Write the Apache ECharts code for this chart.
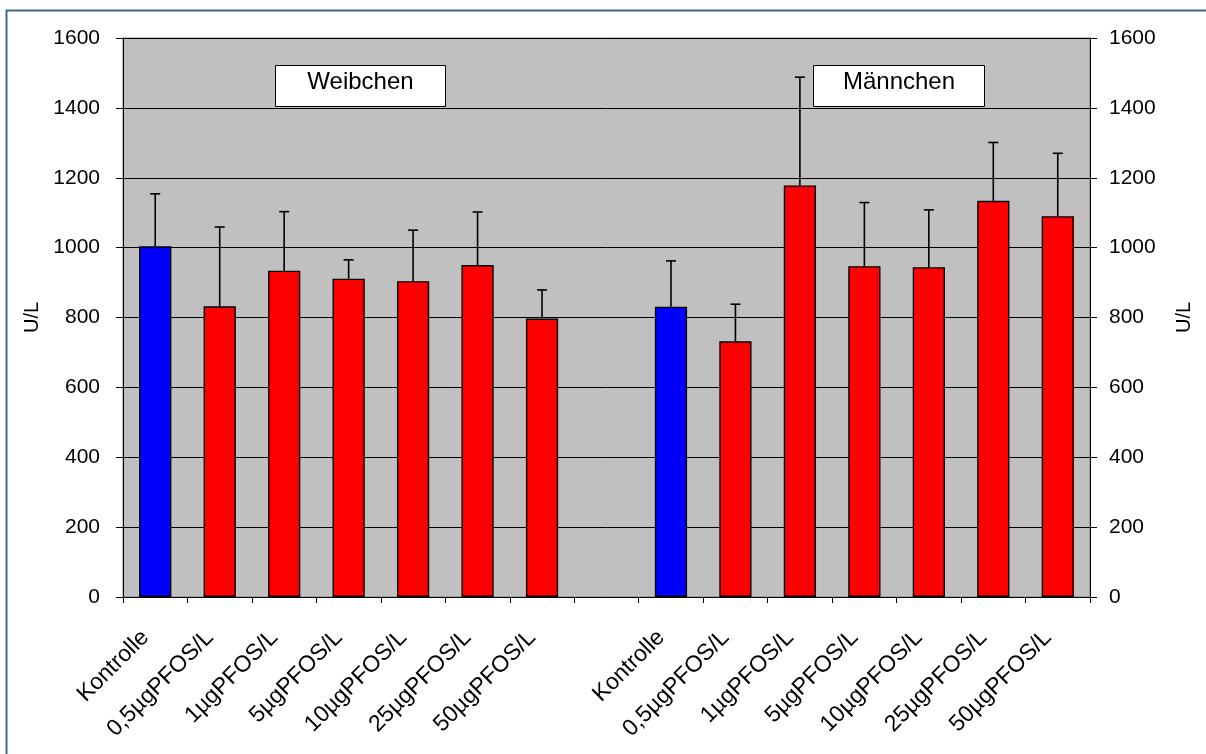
<!DOCTYPE html>
<html>
<head>
<meta charset="utf-8">
<style>
  html, body { margin: 0; padding: 0; background: #ffffff; }
  #chart { width: 1206px; height: 754px; }
</style>
<script src="https://cdn.jsdelivr.net/npm/echarts@6/dist/echarts.min.js"></script>
</head>
<body>
<div id="chart"></div>
<script>
// Treatment groups (same for both sexes)
const groups = ['Kontrolle', '0,5µgPFOS/L', '1µgPFOS/L', '5µgPFOS/L', '10µgPFOS/L', '25µgPFOS/L', '50µgPFOS/L'];

// Mean activity, U/L
const weibchenMean = [1004, 832, 934, 911, 904, 950, 797];
const maennchenMean = [831, 732, 1178, 947, 944, 1134, 1090];

// Standard deviation (upper error bar), U/L
const weibchenSD = [150, 227, 169, 54, 146, 152, 82];
const maennchenSD = [131, 106, 310, 182, 164, 167, 180];

// Value axis ticks
const yTicks = [0, 200, 400, 600, 800, 1000, 1200, 1400, 1600];

const sexLabels = ['Weibchen', 'Männchen'];

// Category axis: females, empty slot, males
const categories = [...groups, '', ...groups];
const means = [...weibchenMean, null, ...maennchenMean];
const sds = [...weibchenSD, null, ...maennchenSD];

const FONT = 'Arial, "Liberation Sans", sans-serif';

const barData = means.map((v, i) => {
  if (v === null) return '-';
  const isControl = categories[i] === 'Kontrolle';
  return {
    value: v,
    itemStyle: { color: isControl ? '#0000ff' : '#ff0000' }
  };
});

const errData = [];
means.forEach((v, i) => {
  if (v !== null) errData.push([i, v, sds[i]]);
});

const chart = echarts.init(document.getElementById('chart'), null, { renderer: 'canvas' });

const yAxisCommon = {
  type: 'value',
  min: yTicks[0],
  max: yTicks[yTicks.length - 1],
  interval: yTicks[1] - yTicks[0],
  name: 'U/L',
  nameLocation: 'middle',
  nameRotate: 90,
  nameTextStyle: { fontFamily: FONT, fontSize: 20, color: '#000' },
  axisLine: { show: true, lineStyle: { color: '#000', width: 1 } },
  axisTick: { show: true, length: 7, lineStyle: { color: '#000' } },
  axisLabel: { fontFamily: FONT, fontSize: 21, color: '#000', formatter: v => String(v) }
};

chart.setOption({
  animation: false,
  backgroundColor: '#ffffff',
  grid: {
    left: 123, right: 116, top: 38, bottom: 157,
    show: true,
    backgroundColor: '#c0c0c0',
    borderColor: '#808080',
    borderWidth: 1
  },
  xAxis: {
    type: 'category',
    data: categories,
    axisLine: { show: true, lineStyle: { color: '#000', width: 1 } },
    axisTick: { show: true, interval: 0, length: 6, lineStyle: { color: '#000' } },
    axisLabel: {
      interval: 0,
      rotate: 45,
      margin: 27,
      padding: [0, 14, 0, 0],
      fontFamily: FONT,
      fontSize: 23,
      color: '#000'
    },
    splitLine: { show: false }
  },
  yAxis: [
    Object.assign({}, yAxisCommon, {
      position: 'left',
      nameGap: 81,
      axisLabel: Object.assign({}, yAxisCommon.axisLabel, { margin: 23 }),
      splitLine: { show: true, lineStyle: { color: '#000', width: 1 } }
    }),
    Object.assign({}, yAxisCommon, {
      position: 'right',
      nameGap: 84,
      axisLabel: Object.assign({}, yAxisCommon.axisLabel, { margin: 19 }),
      splitLine: { show: false }
    })
  ],
  series: [
    {
      type: 'bar',
      data: barData,
      barWidth: '50%',
      itemStyle: { borderColor: '#000', borderWidth: 1.4 },
      z: 2
    },
    {
      type: 'custom',
      data: errData,
      z: 3,
      renderItem: function (params, api) {
        const idx = api.value(0);
        const mean = api.value(1);
        const sd = api.value(2);
        const base = api.coord([idx, mean]);
        const top = api.coord([idx, mean + sd]);
        const cap = 5;
        const style = { stroke: '#000', lineWidth: 1.6 };
        return {
          type: 'group',
          children: [
            { type: 'line', shape: { x1: base[0], y1: base[1], x2: top[0], y2: top[1] }, style: style },
            { type: 'line', shape: { x1: top[0] - cap, y1: top[1], x2: top[0] + cap, y2: top[1] }, style: style }
          ]
        };
      }
    }
  ],
  graphic: [
    // outer chart frame
    {
      type: 'rect',
      shape: { x: 6.5, y: 10.5, width: 1400, height: 900 },
      style: { fill: 'none', stroke: '#3d6a86', lineWidth: 2 },
      silent: true
    },
    {
      type: 'group',
      left: 275, top: 65,
      children: [
        { type: 'rect', shape: { x: 0, y: 0, width: 170, height: 41 }, style: { fill: '#fff', stroke: '#000', lineWidth: 1 } },
        { type: 'text', x: 85, y: 17, style: { text: sexLabels[0], fontFamily: FONT, fontSize: 24, fill: '#000', textAlign: 'center', textVerticalAlign: 'middle' } }
      ],
      z: 10
    },
    {
      type: 'group',
      left: 813, top: 65,
      children: [
        { type: 'rect', shape: { x: 0, y: 0, width: 171, height: 41 }, style: { fill: '#fff', stroke: '#000', lineWidth: 1 } },
        { type: 'text', x: 85.5, y: 17, style: { text: sexLabels[1], fontFamily: FONT, fontSize: 24, fill: '#000', textAlign: 'center', textVerticalAlign: 'middle' } }
      ],
      z: 10
    }
  ]
});
</script>
</body>
</html>
